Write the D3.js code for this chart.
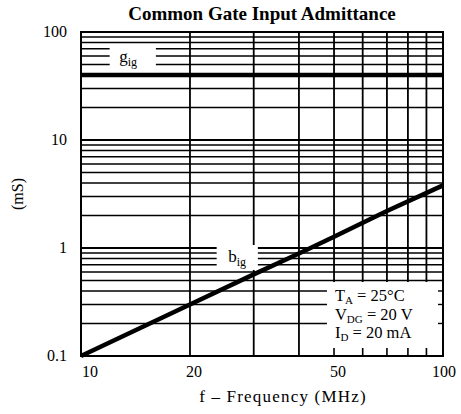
<!DOCTYPE html>
<html><head><meta charset="utf-8">
<script src="https://cdn.jsdelivr.net/npm/d3@7"></script>
<style>body{margin:0;background:#fff;} svg{display:block;font-family:"Liberation Serif","Times New Roman",serif;}</style>
</head><body><svg id="c" width="461" height="414"></svg>
<script>
// ---- data ----
const title = "Common Gate Input Admittance";
const xAxisTitle = "f \u2013 Frequency (MHz)";
const yAxisTitle = "(mS)";
const xDomain = [10, 100];
const yDomain = [0.1, 100];
const xGridValues = [10, 20, 30, 40, 50, 60, 70, 80, 90, 100];
const xTickValues = [10, 20, 50, 100];
const xTickText = ["10", "20", "50", "100"];
const yTickValues = [0.1, 1, 10, 100];
const yTickText = ["0.1", "1", "10", "100"];
const decades = [0.1, 1, 10];
const multiples = [1, 2, 3, 4, 5, 6, 7, 8, 9];
// b_ig series (frequency MHz, mS)
const bigFreq = [10, 20, 30, 40, 50, 70, 100];
const bigVal  = [0.1, 0.3, 0.57, 0.89, 1.27, 2.2, 3.8];
// g_ig series
const gigFreq = [10, 100];
const gigVal  = [40, 40];
// series labels
const labelText = ["g", "b"];
const labelSub = ["ig", "ig"];
const labelFreq = [13.5, 27];
const labelVal = [57, 0.8];
const labelBoxF = [[12.0, 16.1], [23.7, 30.8]];
const labelBoxV = [[46.4, 77.4], [0.626, 1.066]];
// conditions
const condMain = ["T", "V", "I"];
const condSub = ["A", "DG", "D"];
const condRest = [" = 25\u00b0C", " = 20 V", " = 20 mA"];
const condBoxF = [47.8, 100];
const condBoxV = [0.1, 0.484];
const condTickF = [50, 60, 70, 80, 90];
const condTickV = [0.2, 0.3, 0.4];

// ---- layout ----
const svg = d3.select("#c");
const m = {l: 81, r: 18, t: 32, b: 58};
const W = 461, H = 414;
const x = d3.scaleLog().domain(xDomain).range([m.l, W - m.r]);
const y = d3.scaleLog().domain(yDomain).range([H - m.b, m.t]);

const g = svg.append("g");
// horizontal grid
const hVals = [];
decades.forEach(d => multiples.forEach(k => hVals.push(+(d * k).toPrecision(3))));
hVals.push(100);
g.selectAll("line.h").data(hVals).join("line")
  .attr("x1", x(xDomain[0])).attr("x2", x(xDomain[1]))
  .attr("y1", d => y(d)).attr("y2", d => y(d))
  .attr("stroke", "#000")
  .attr("stroke-width", d => (Math.abs(Math.log10(d) % 1) < 1e-6 ? 2 : 1.4));
// vertical grid
g.selectAll("line.v").data(xGridValues).join("line")
  .attr("x1", d => x(d)).attr("x2", d => x(d))
  .attr("y1", y(yDomain[0])).attr("y2", y(yDomain[1]))
  .attr("stroke", "#000").attr("stroke-width", 1.8);

// white label boxes
labelText.forEach((t, i) => {
  g.append("rect")
    .attr("x", x(labelBoxF[i][0])).attr("width", x(labelBoxF[i][1]) - x(labelBoxF[i][0]))
    .attr("y", y(labelBoxV[i][1])).attr("height", y(labelBoxV[i][0]) - y(labelBoxV[i][1]))
    .attr("fill", "#fff");
});
// condition box
g.append("rect")
  .attr("x", x(condBoxF[0])).attr("width", x(condBoxF[1]) - x(condBoxF[0]))
  .attr("y", y(condBoxV[1])).attr("height", y(condBoxV[0]) - y(condBoxV[1]))
  .attr("fill", "#fff");
g.selectAll("line.ct").data(condTickF).join("line")
  .attr("x1", d => x(d)).attr("x2", d => x(d))
  .attr("y1", y(yDomain[0])).attr("y2", y(yDomain[0]) - 8)
  .attr("stroke", "#000").attr("stroke-width", 1.6);
g.selectAll("line.cr").data(condTickV).join("line")
  .attr("x1", x(xDomain[1])).attr("x2", x(xDomain[1]) - 5)
  .attr("y1", d => y(d)).attr("y2", d => y(d))
  .attr("stroke", "#000").attr("stroke-width", 1.4);

// data lines
const line = d3.line().x(d => x(d[0])).y(d => y(d[1]));
g.append("path").datum(bigFreq.map((f, i) => [f, bigVal[i]]))
  .attr("d", line).attr("fill", "none").attr("stroke", "#000").attr("stroke-width", 4.5);
g.append("path").datum(gigFreq.map((f, i) => [f, gigVal[i]]))
  .attr("d", line).attr("fill", "none").attr("stroke", "#000").attr("stroke-width", 4.5);

// border
g.append("rect").attr("x", x(xDomain[0])).attr("y", y(yDomain[1]))
  .attr("width", x(xDomain[1]) - x(xDomain[0])).attr("height", y(yDomain[0]) - y(yDomain[1]))
  .attr("fill", "none").attr("stroke", "#000").attr("stroke-width", 2);

// series labels
labelText.forEach((t, i) => {
  const tx = svg.append("text").attr("x", x(labelFreq[i])).attr("y", y(labelVal[i]) + 4)
    .attr("text-anchor", "middle").attr("font-size", 17).attr("fill", "#000");
  tx.append("tspan").text(t);
  tx.append("tspan").attr("dy", 4).attr("font-size", 12).text(labelSub[i]);
});

// conditions text
condMain.forEach((t, i) => {
  const tx = svg.append("text").attr("x", x(condBoxF[0]) + 8).attr("y", y(yDomain[0]) - 55 + i * 18.5)
    .attr("font-size", 16.5).attr("fill", "#000");
  tx.append("tspan").text(t);
  tx.append("tspan").attr("dy", 3).attr("font-size", 11).text(condSub[i]);
  tx.append("tspan").attr("dy", -3).text(condRest[i]);
});

// tick labels
svg.selectAll("text.yt").data(yTickValues).join("text")
  .attr("x", m.l - 14).attr("y", d => y(d) + 5)
  .attr("text-anchor", "end").attr("font-size", 16).text((d, i) => yTickText[i]);
svg.selectAll("text.xt").data(xTickValues).join("text")
  .attr("x", (d, i) => x(d) + (i === 0 ? 1 : (i === xTickValues.length - 1 ? 1 : 4)))
  .attr("y", H - m.b + 21)
  .attr("text-anchor", (d, i) => i === 0 ? "start" : "middle")
  .attr("font-size", 16).text((d, i) => xTickText[i]);

// titles
svg.append("text").attr("x", (m.l + W - m.r) / 2).attr("y", 20)
  .attr("text-anchor", "middle").attr("font-size", 19).attr("font-weight", "bold").text(title);
svg.append("text").attr("x", (m.l + W - m.r) / 2 + 21).attr("y", 402)
  .attr("text-anchor", "middle").attr("font-size", 17).attr("letter-spacing", 1.2).text(xAxisTitle);
svg.append("text").attr("transform", `translate(23,${(m.t + H - m.b) / 2}) rotate(-90)`)
  .attr("text-anchor", "middle").attr("font-size", 16).text(yAxisTitle);
</script></body></html>
